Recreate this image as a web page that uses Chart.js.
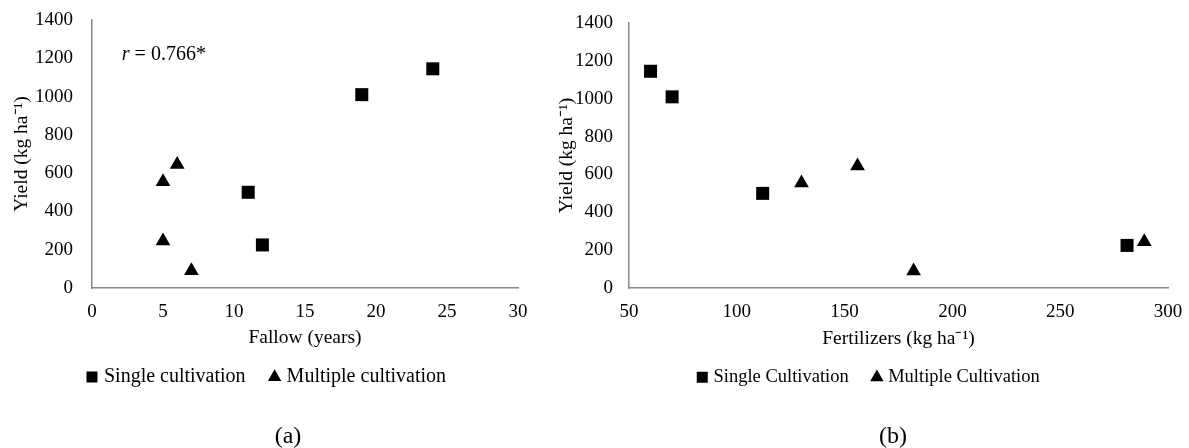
<!DOCTYPE html>
<html>
<head>
<meta charset="utf-8">
<script src="https://cdn.jsdelivr.net/npm/chart.js@4.4.1/dist/chart.umd.min.js"></script>
<style>
  html, body { margin: 0; padding: 0; background: #fff; }
  body { width: 1189px; height: 448px; position: relative; overflow: hidden; }
  .wrap { position: absolute; top: 0; height: 448px; }
  #wrapA { left: 0; width: 536px; }
  #wrapB { left: 551px; width: 638px; }
  .panel { position: absolute; top: 422px; font: 24px "Liberation Serif", serif; color: #000; transform: translateX(-50%); }
</style>
</head>
<body>
<div class="wrap" id="wrapA"><canvas id="chartA"></canvas></div>
<div class="wrap" id="wrapB"><canvas id="chartB"></canvas></div>
<div class="panel" style="left:288px">(a)</div>
<div class="panel" style="left:893px">(b)</div>
<script>
// ---- data ----
const singleFallow = [24, 19, 11, 12];
const singleFert   = [60, 70, 112, 281];
const singleYield  = [1145, 1010, 500, 225];

const multiFallow  = [6, 5, 5, 7];
const multiFert    = [156, 130, 289, 182];
const multiYield   = [645, 555, 245, 90];

const yieldTicks  = [0, 200, 400, 600, 800, 1000, 1200, 1400];
const fallowTicks = [0, 5, 10, 15, 20, 25, 30];
const fertTicks   = [50, 100, 150, 200, 250, 300];

const FONT = "'Liberation Serif', 'Times New Roman', serif";
const AXIS = "#878787";

Chart.defaults.font.family = FONT;
Chart.defaults.color = "#000";

const pts = (xs, ys) => xs.map((x, i) => ({ x: x, y: ys[i] }));

// r = 0.766* note, italic r
const rNote = {
  id: "rNote",
  afterDatasetsDraw(chart, args, opts) {
    if (!opts.show) return;
    const c = chart.ctx;
    const x = chart.scales.x.getPixelForValue(opts.x);
    const y = chart.scales.y.getPixelForValue(opts.y);
    c.save();
    c.fillStyle = "#000";
    c.textBaseline = "middle";
    c.font = "italic 20px " + FONT;
    c.fillText("r", x, y);
    const w = c.measureText("r").width;
    c.font = "20px " + FONT;
    c.fillText(" = 0.766*", x + w, y);
    c.restore();
  }
};

// legend sits a bit right of the canvas centre in the figure
const legendShift = {
  id: "legendShift",
  afterLayout(chart, args, opts) {
    const l = chart.legend;
    if (!l || !opts.dx) return;
    l.left += opts.dx;
    l.right += opts.dx;
  }
};

function makeChart(id, cfg) {
  return new Chart(document.getElementById(id), {
    type: "scatter",
    data: {
      datasets: [
        {
          label: cfg.labels[0],
          data: cfg.single,
          pointStyle: "rect",
          pointRadius: 9.2,
          pointHoverRadius: 9.2,
          backgroundColor: "#000",
          borderColor: "#000",
          borderWidth: 0
        },
        {
          label: cfg.labels[1],
          data: cfg.multi,
          pointStyle: "triangle",
          pointRadius: 8.5,
          pointHoverRadius: 8.5,
          backgroundColor: "#000",
          borderColor: "#000",
          borderWidth: 0
        }
      ]
    },
    options: {
      responsive: true,
      maintainAspectRatio: false,
      animation: false,
      layout: { padding: cfg.padding },
      plugins: {
        tooltip: { enabled: false },
        legend: {
          position: "bottom",
          labels: {
            usePointStyle: true,
            boxWidth: 4,
            boxHeight: 11,
            padding: 17,
            font: { size: cfg.legendSize, family: FONT },
            color: "#000"
          }
        },
        rNote: cfg.note,
        legendShift: { dx: cfg.legendDx }
      },
      scales: {
        x: {
          type: "linear",
          min: cfg.xTicks[0],
          max: cfg.xTicks[cfg.xTicks.length - 1],
          afterBuildTicks: s => { s.ticks = cfg.xTicks.map(v => ({ value: v })); },
          afterFit: s => { s.height = cfg.xHeight; s.paddingLeft = 0; s.paddingRight = 0; },
          grid: { display: false, drawTicks: false },
          border: { display: true, color: AXIS, width: 1.5 },
          ticks: { padding: 13, font: { size: 19 }, color: "#000", callback: v => String(v) },
          title: { display: true, text: cfg.xTitle, font: { size: 19.5 }, color: "#000", padding: { top: 0, bottom: 0 } }
        },
        y: {
          type: "linear",
          min: 0,
          max: 1400,
          afterBuildTicks: s => { s.ticks = yieldTicks.map(v => ({ value: v })); },
          afterFit: s => { s.width = cfg.yWidth; s.paddingTop = 0; s.paddingBottom = 0; },
          grid: { display: false, drawTicks: false },
          border: { display: true, color: AXIS, width: 1.5 },
          ticks: { padding: cfg.yPad, font: { size: 19 }, color: "#000", callback: v => String(v) },
          title: { display: true, text: "Yield (kg ha\u207B\u00B9)", font: { size: 19.5 }, color: "#000", padding: { top: cfg.yTitlePad, bottom: 0 } }
        }
      }
    },
    plugins: [rNote, legendShift]
  });
}

makeChart("chartA", {
  labels: ["Single cultivation\u2002", "Multiple cultivation"],
  single: pts(singleFallow, singleYield),
  multi: pts(multiFallow, multiYield),
  xTicks: fallowTicks,
  xTitle: "Fallow (years)",
  xHeight: 62,
  yWidth: 92,
  yPad: 19,
  yTitlePad: 10,
  legendSize: 20,
  legendDx: 9,
  padding: { top: 20, right: 18, bottom: 51, left: 0 },
  note: { show: true, x: 2.1, y: 1220 }
});

makeChart("chartB", {
  labels: ["Single Cultivation\u2002", "Multiple Cultivation"],
  single: pts(singleFert, singleYield),
  multi: pts(multiFert, multiYield),
  xTicks: fertTicks,
  xTitle: "Fertilizers (kg ha\u207B\u00B9)",
  xHeight: 63,
  yWidth: 78,
  yPad: 16,
  yTitlePad: 4,
  legendSize: 18.5,
  legendDx: 10.5,
  padding: { top: 23, right: 21, bottom: 51.5, left: 0 },
  note: { show: false }
});
</script>
</body>
</html>
